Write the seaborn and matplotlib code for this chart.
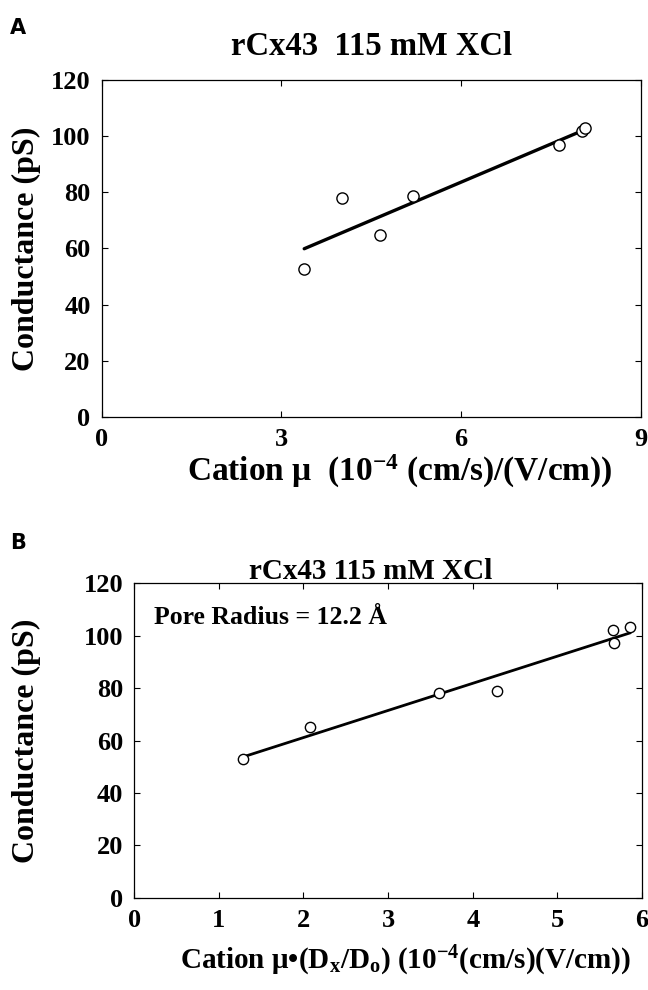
import numpy as np
import pandas as pd
import matplotlib
matplotlib.use("Agg")
import matplotlib.pyplot as plt
import seaborn as sns

# Panel A: conductance vs cation mobility
mobility_a = [3.38, 4.01, 4.65, 5.19, 7.63, 8.02, 8.07]
conductance_a = [52.8, 77.9, 64.7, 78.8, 96.9, 102.0, 103.0]

# Panel B: conductance vs hindrance-corrected mobility
mobility_b = [1.285, 2.08, 3.60, 4.28, 5.65, 5.67, 5.86]
conductance_b = [53.0, 65.0, 78.0, 78.9, 102.1, 97.0, 103.1]

yticks = [0, 20, 40, 60, 80, 100, 120]
xticks_a = [0, 3, 6, 9]
xticks_b = [0, 1, 2, 3, 4, 5, 6]

df_a = pd.DataFrame({"x": mobility_a, "y": conductance_a})
df_b = pd.DataFrame({"x": mobility_b, "y": conductance_b})

sns.set_theme(style="ticks")
plt.rcParams["font.family"] = ["Liberation Serif", "DejaVu Serif"]
plt.rcParams["font.weight"] = "bold"
plt.rcParams["text.color"] = "black"
plt.rcParams["axes.labelcolor"] = "black"
plt.rcParams["mathtext.fontset"] = "custom"
plt.rcParams["mathtext.rm"] = "Liberation Serif:bold"
plt.rcParams["mathtext.it"] = "Liberation Serif:bold"
plt.rcParams["mathtext.bf"] = "Liberation Serif:bold"

fig = plt.figure(figsize=(6.48, 9.9), dpi=100)
ax_a = fig.add_axes([0.157, 0.579, 0.832, 0.340])
ax_b = fig.add_axes([0.207, 0.093, 0.784, 0.318])


def style_axis(ax, xticks, xmax, label_x):
    ax.set_xlim(0, xmax)
    ax.set_ylim(0, 120)
    ax.set_xticks(xticks)
    ax.set_yticks(yticks)
    ax.tick_params(direction="in", length=4, width=0.8, top=True, right=True,
                   labelsize=19, pad=8, colors="black")
    for lab in ax.get_xticklabels() + ax.get_yticklabels():
        lab.set_fontweight("bold")
    for sp in ax.spines.values():
        sp.set_visible(True)
        sp.set_linewidth(0.9)
        sp.set_color("black")
    ax.set_ylabel("Conductance (pS)", fontsize=23, fontweight="bold")
    ax.yaxis.set_label_coords(label_x, 0.5)


# Panel A
sns.regplot(data=df_a, x="x", y="y", ax=ax_a, ci=None, scatter=False,
            line_kws={"color": "black", "linewidth": 2.4})
sns.scatterplot(data=df_a, x="x", y="y", ax=ax_a, marker="o", s=65,
                facecolor="white", edgecolor="black", linewidth=1.0, zorder=3)
style_axis(ax_a, xticks_a, 9, -0.112)
ax_a.set_title("rCx43  115 mM XCl", fontsize=23.5, fontweight="bold", pad=18)
ax_a.set_xlabel("Cation \u03bc  (10$^{-4}$ (cm/s)/(V/cm))", fontsize=24,
                fontweight="bold")
ax_a.xaxis.set_label_coords(0.553, -0.108)

# Panel B
sns.regplot(data=df_b, x="x", y="y", ax=ax_b, ci=None, scatter=False,
            line_kws={"color": "black", "linewidth": 2.0})
sns.scatterplot(data=df_b, x="x", y="y", ax=ax_b, marker="o", s=55,
                facecolor="white", edgecolor="black", linewidth=1.0, zorder=3)
style_axis(ax_b, xticks_b, 6, -0.183)
ax_b.set_title("rCx43 115 mM XCl", fontsize=21, fontweight="bold", pad=3, x=0.4646)
ax_b.set_xlabel("Cation \u03bc\u2022(D$_x$/D$_o$) (10$^{-4}$(cm/s)(V/cm))", fontsize=21,
                fontweight="bold")
ax_b.xaxis.set_label_coords(0.535, -0.145)
ax_b.text(0.04, 0.89, "Pore Radius = 12.2 \u00c5", transform=ax_b.transAxes,
          fontsize=18.5, fontweight="bold", ha="left", va="center")

fig.text(0.015, 0.972, "A", fontsize=15, fontweight="bold", family="DejaVu Sans",
         ha="left", va="center")
fig.text(0.015, 0.452, "B", fontsize=15, fontweight="bold", family="DejaVu Sans",
         ha="left", va="center")

fig.savefig("out.png", dpi=100, facecolor="white")
